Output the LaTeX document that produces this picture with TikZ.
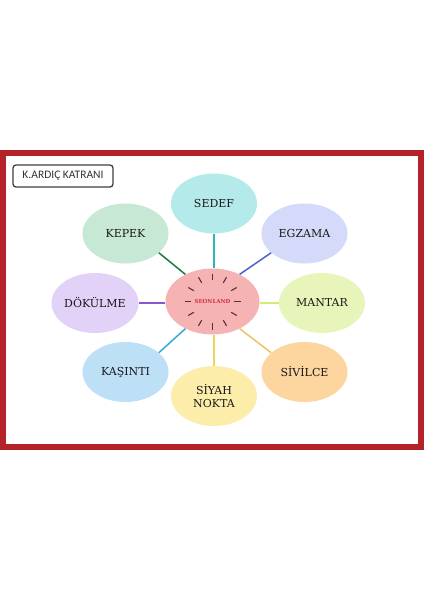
\documentclass[tikz,border=0pt]{standalone}
\usepackage{fontspec}
\setmainfont{DejaVu Serif}
\newfontfamily\labelfont{Carlito}
\usetikzlibrary{shapes.geometric}
\definecolor{frame}{HTML}{B4222A}
\definecolor{cpink}{HTML}{F5B3B3}
\definecolor{csedef}{HTML}{B5EAEA}
\definecolor{ckepek}{HTML}{C6E8D5}
\definecolor{cegz}{HTML}{D5DAFA}
\definecolor{cdok}{HTML}{E2D2F8}
\definecolor{cmant}{HTML}{E8F5BA}
\definecolor{ckas}{HTML}{BEE0F7}
\definecolor{csiv}{HTML}{FCD59F}
\definecolor{csiy}{HTML}{FDEDAA}
\definecolor{lsedef}{HTML}{2BB5B5}
\definecolor{lkepek}{HTML}{1B7A42}
\definecolor{legz}{HTML}{4A62D0}
\definecolor{ldok}{HTML}{8A58CC}
\definecolor{lmant}{HTML}{D6EA78}
\definecolor{lkas}{HTML}{3AA8D8}
\definecolor{lsiy}{HTML}{F0D458}
\definecolor{lsiv}{HTML}{F0C262}
\definecolor{tick}{HTML}{5A3030}
\definecolor{ctext}{HTML}{D03040}
\begin{document}
\begin{tikzpicture}[x=1pt,y=-1pt,
  bubble/.style={ellipse,minimum width=86pt,minimum height=60pt,inner sep=0pt,font=\fontsize{11}{13}\selectfont,align=center,text=black!90},
  conn/.style={line width=1.5pt}]
\useasboundingbox (0,0) rectangle (424,600);
\fill[white] (0,0) rectangle (424,600);
% frame
\draw[frame,line width=6pt] (3,153) rectangle (421,447);
% label box
\node[draw=black!75,line width=1.3pt,rounded corners=3pt,minimum width=100pt,minimum height=22pt,inner sep=0pt,
  font=\labelfont\fontsize{11.5}{13}\selectfont,text=black!80] (lab) at (63,176) {K.ARDIÇ KATRANI};
% center
\node[ellipse,fill=cpink,minimum width=94pt,minimum height=66pt,inner sep=0pt] (c) at (212.5,301.5) {};
\node[font=\bfseries\fontsize{5.5}{6}\selectfont,text=ctext] (ct) at (c.center) {SEONLAND};
\foreach \a in {0,30,...,330}{
  \draw[tick,line width=1.1pt] (c.center) ++(\a:21.5) -- ++(\a:6.5);
}
% outer bubbles
\node[bubble,fill=csedef] (sedef) at (214,203.5) {SEDEF};
\node[bubble,fill=ckepek] (kepek) at (125.5,233.5) {KEPEK};
\node[bubble,fill=cegz] (egz) at (304.5,233.5) {EGZAMA};
\node[bubble,fill=cdok] (dok) at (95,303) {DÖKÜLME};
\node[bubble,fill=cmant] (mant) at (322,303) {MANTAR};
\node[bubble,fill=ckas] (kas) at (125.5,372) {KAŞINTI};
\node[bubble,fill=csiv] (siv) at (304.5,372) {SİVİLCE};
\node[bubble,fill=csiy] (siy) at (214,396) {SİYAH\\NOKTA};
% connectors
\draw[conn,lsedef] (sedef.south) -- (sedef.south |- c.north);
\draw[conn,lkepek] (c.135) -- (kepek.-30);
\draw[conn,legz] (c.45) -- (egz.210);
\draw[conn,ldok] (dok.east) -- (dok.east -| c.west);
\draw[conn,lmant] (mant.west -| c.east) -- (mant.west);
\draw[conn,lkas] (c.225) -- (kas.30);
\draw[conn,lsiv] (c.-45) -- (siv.150);
\draw[conn,lsiy] (siy.north) -- (siy.north |- c.south);
\end{tikzpicture}
\end{document}
